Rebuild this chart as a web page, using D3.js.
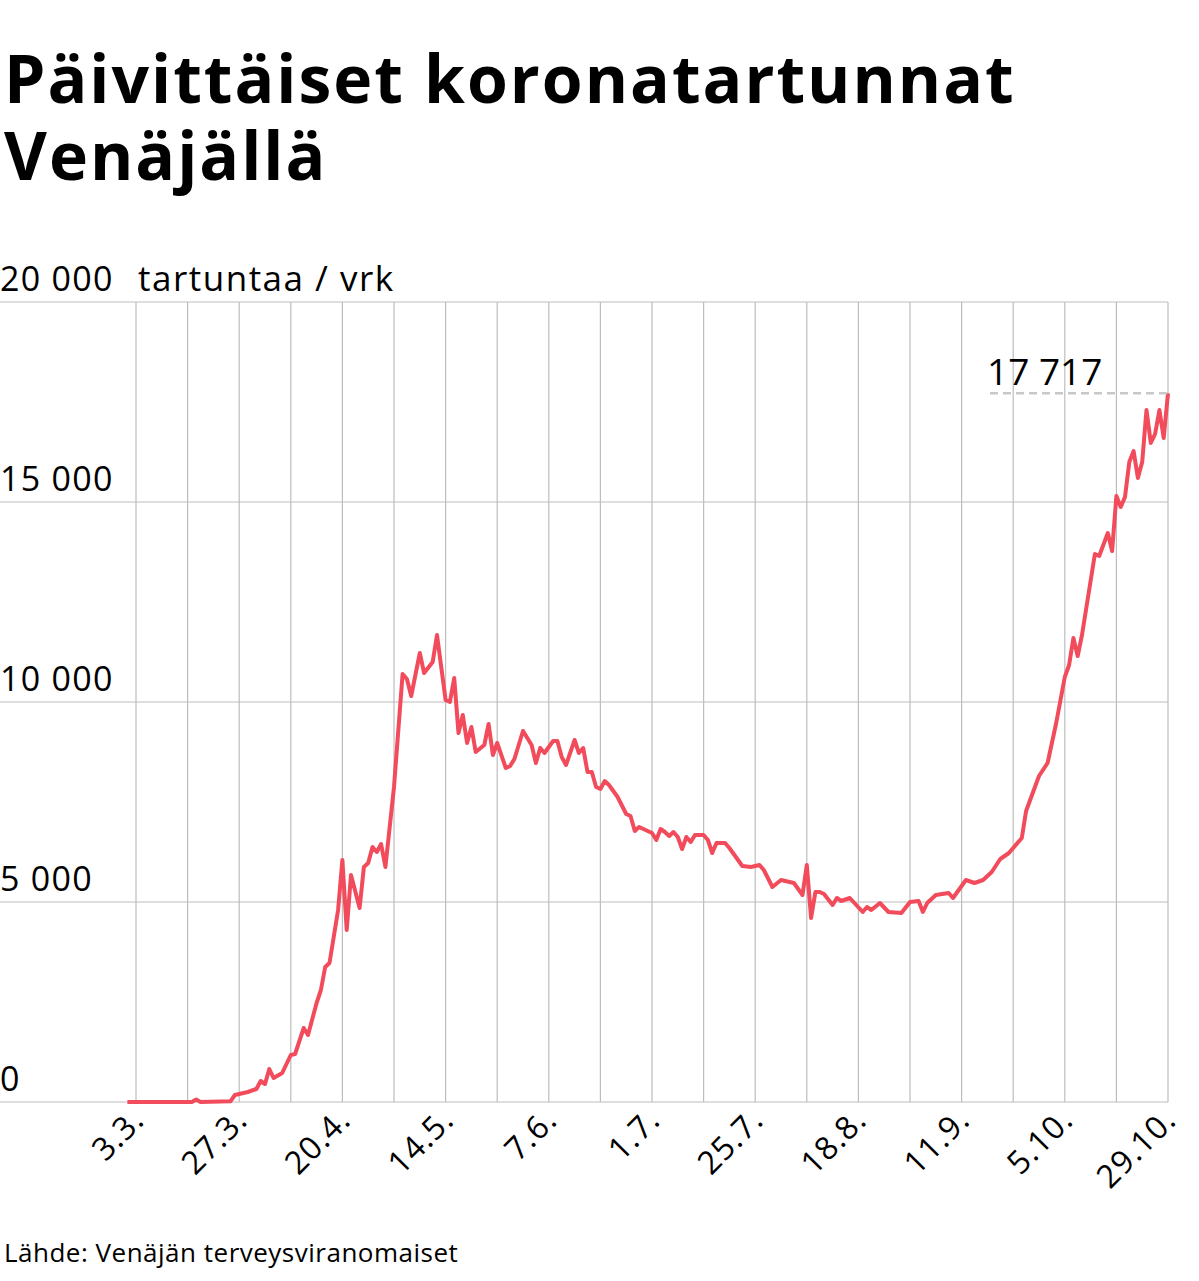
<!DOCTYPE html>
<html><head><meta charset="utf-8">
<script src="https://cdn.jsdelivr.net/npm/d3@7"></script>
<style>
body{margin:0;background:#fff;font-family:"Open Sans",sans-serif;}
</style></head>
<body><svg id="c" width="1199" height="1281"></svg>
<script>
// days since 3.3.2020 and daily new cases
var days = [-2,13,14,15,22,23,26,28,29,30,31,32,34,36,37,39,40,42,43,44,45,47,48,49,50,52,53,54,55,56,57,58,60,62,63,64,66,67,69,70,72,73,74,75,76,77,78,79,81,82,83,84,86,87,88,90,92,93,94,95,97,98,99,100,102,103,104,105,106,107,108,109,110,112,114,115,116,117,120,121,122,123,124,125,126,127,128,129,130,132,133,134,135,137,138,141,143,145,146,148,150,153,155,156,157,158,159,160,162,163,164,166,169,170,171,173,175,178,180,182,183,184,186,189,190,193,195,197,199,201,203,206,207,210,212,214,216,217,218,219,220,221,223,224,226,227,228,229,230,231,232,233,234,235,236,237,238,239,240]
var cases = [0,0,60,0,20,175,250,325,525,450,825,600,725,1175,1200,1850,1675,2475,2800,3375,3475,4800,6050,4300,5675,4850,5875,5975,6375,6250,6450,5875,7875,10700,10575,10150,11225,10725,11000,11675,10050,10000,10600,9225,9675,8975,9375,8750,8925,9450,8675,8975,8350,8400,8575,9275,8925,8475,8850,8725,9025,9025,8625,8425,9050,8725,8850,8250,8250,7875,7825,8025,7925,7625,7200,7150,6775,6875,6725,6550,6825,6750,6650,6750,6625,6325,6625,6500,6675,6675,6550,6225,6475,6475,6350,5900,5875,5925,5800,5375,5550,5475,5175,5925,4600,5250,5250,5200,4925,5100,5025,5100,4750,4875,4800,4975,4750,4725,5000,5025,4750,4975,5175,5225,5100,5550,5475,5550,5750,6075,6225,6600,7275,8150,8475,9475,10625,10925,11600,11150,11675,12350,13700,13650,14225,13775,15150,14875,15125,16000,16275,15600,16000,17300,16475,16700,17300,16600,17717]
var yTicks = [0,5000,10000,15000,20000]
var xLabels = ["3.3.","27.3.","20.4.","14.5.","7.6.","1.7.","25.7.","18.8.","11.9.","5.10.","29.10."]
var lastValue = "17 717"

var svg = d3.select("#c")
var start = new Date(2020,2,3)
function dayDate(d){ return d3.timeDay.offset(start, d) }

var x = d3.scaleTime().domain([start, new Date(2020,9,29)]).range([136,1168])
var y = d3.scaleLinear().domain([0,20000]).range([1102,302])

svg.append("text").attr("x",4).attr("y",103).attr("font-size",66).attr("letter-spacing",2).attr("font-weight",700).text("Päivittäiset koronatartunnat")
svg.append("text").attr("x",4).attr("y",180).attr("font-size",66).attr("letter-spacing",2).attr("font-weight",700).text("Venäjällä")

var grid = svg.append("g").attr("stroke","#bdbdbd").attr("stroke-width",1.2)
yTicks.forEach(function(t){
  grid.append("line").attr("x1",0).attr("x2",1168).attr("y1",y(t)).attr("y2",y(t))
})
var gridDays = d3.timeDay.every(1).range(start, new Date(2020,9,30)).filter(function(d,i){ return i%12==0 })
gridDays.forEach(function(d){
  grid.append("line").attr("x1",x(d)).attr("x2",x(d)).attr("y1",302).attr("y2",1102)
})

svg.selectAll(".yl").data(yTicks).enter().append("text")
  .attr("x",0).attr("y",function(d){ return y(d)-11 }).attr("font-size",34).attr("letter-spacing",1.3)
  .text(function(d){ return d3.format(",")(d).replace(/,/g," ") })
svg.append("text").attr("x",138).attr("y",y(20000)-11).attr("font-size",35).attr("letter-spacing",1.5).text("tartuntaa / vrk")

gridDays.filter(function(d,i){ return i%2==0 }).forEach(function(d,i){
  svg.append("text").attr("font-size",32).attr("letter-spacing",1).attr("text-anchor","end")
    .attr("transform","translate("+(x(d)+10)+",1122) rotate(-45)")
    .text(xLabels[i])
})

var line = d3.line().x(function(d){ return x(dayDate(d[0])) }).y(function(d){ return y(d[1]) })
svg.append("path").datum(d3.zip(days,cases)).attr("d",line)
  .attr("fill","none").attr("stroke","#f24b5b").attr("stroke-width",4).attr("stroke-linejoin","round")

var yLast = y(cases[cases.length-1])
svg.append("line").attr("x1",990).attr("x2",1168).attr("y1",yLast).attr("y2",yLast)
  .attr("stroke","#c8c8c8").attr("stroke-width",2.5).attr("stroke-dasharray","8,5")
svg.append("text").attr("x",987).attr("y",yLast-8).attr("font-size",37).text(lastValue)

svg.append("text").attr("x",4).attr("y",1262).attr("font-size",26).attr("letter-spacing",0.5).text("Lähde: Venäjän terveysviranomaiset")
</script></body></html>
